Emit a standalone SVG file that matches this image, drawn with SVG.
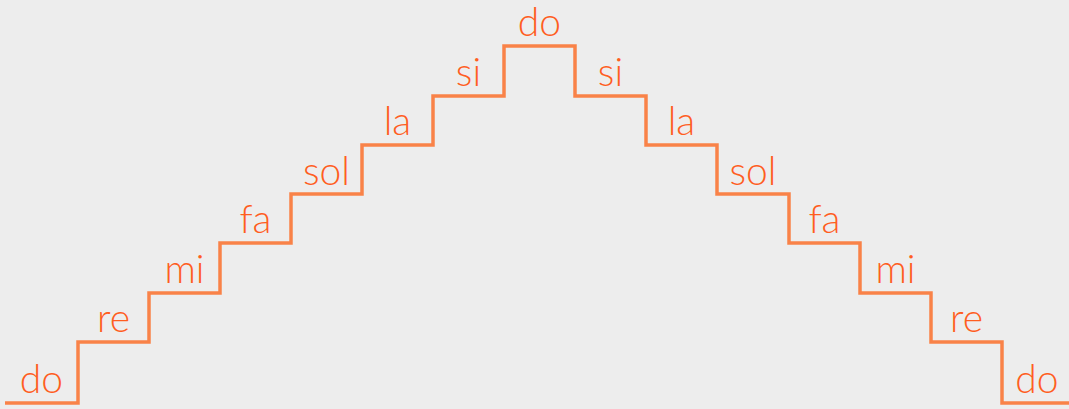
<svg xmlns="http://www.w3.org/2000/svg" width="1069" height="409" viewBox="0 0 1069 409">
<style>
.bg{fill:#EDEDED}
.stair{fill:none;stroke:#F98248;stroke-width:3.5;stroke-linejoin:miter;stroke-linecap:butt}
.lbl{font-family:Lato,"Open Sans","Liberation Sans",sans-serif;font-size:39px;font-weight:300;fill:#FF5E1F;text-anchor:middle}
</style>
<rect class="bg" x="0" y="0" width="1069" height="409"/>
<g id="connectors">
<path class="stair" d="M5 403 H78 V342 H149 V293 H220 V243 H291 V194 H362 V145 H433 V96 H504 V46 H575 V96 H646 V145 H717 V194 H789 V243 H860 V293 H931 V342 H1002 V403 H1069"/>
</g>
<g id="step-do-low-left"><text class="lbl" x="41.5" y="393">do</text></g>
<g id="step-re-left"><text class="lbl" x="113.5" y="332">re</text></g>
<g id="step-mi-left"><text class="lbl" x="184.5" y="283">mi</text></g>
<g id="step-fa-left"><text class="lbl" x="255.5" y="233">fa</text></g>
<g id="step-sol-left"><text class="lbl" x="326.5" y="185">sol</text></g>
<g id="step-la-left"><text class="lbl" x="397.5" y="135">la</text></g>
<g id="step-si-left"><text class="lbl" x="468.5" y="86">si</text></g>
<g id="step-do-top"><text class="lbl" x="539.5" y="36">do</text></g>
<g id="step-si-right"><text class="lbl" x="610.5" y="86">si</text></g>
<g id="step-la-right"><text class="lbl" x="681.5" y="135">la</text></g>
<g id="step-sol-right"><text class="lbl" x="753" y="185">sol</text></g>
<g id="step-fa-right"><text class="lbl" x="824.5" y="233">fa</text></g>
<g id="step-mi-right"><text class="lbl" x="895.5" y="283">mi</text></g>
<g id="step-re-right"><text class="lbl" x="966.5" y="332">re</text></g>
<g id="step-do-low-right"><text class="lbl" x="1037" y="393">do</text></g>
</svg>
